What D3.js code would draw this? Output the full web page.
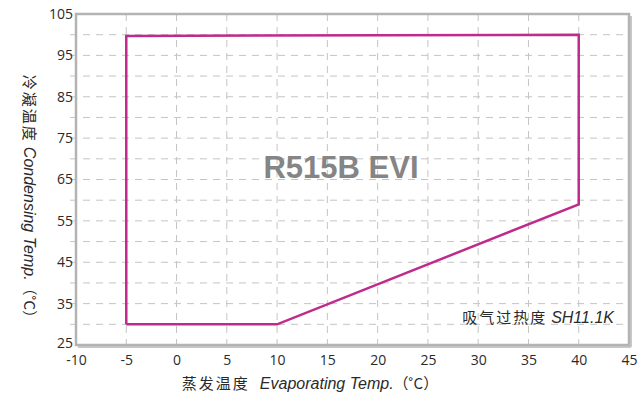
<!DOCTYPE html>
<html><head><meta charset="utf-8">
<script src="https://cdn.jsdelivr.net/npm/d3@7"></script>
<style>body{margin:0;background:#fff}svg{display:block}</style>
</head><body>
<svg id="c" width="644" height="400"></svg>
<script>
const xTicks = [-10,-5,0,5,10,15,20,25,30,35,40,45];
const yTicks = [25,35,45,55,65,75,85,95,105];
const evapTemp = [-5, -5, 40, 40, 10, -5];
const condTemp = [30, 99.7, 100, 59, 30, 30];
const title = "R515B EVI";
const note = "吸气过热度 SH11.1K";

const svg = d3.select("#c");
const L=76, R=629, T=14, B=345;
const x = d3.scaleLinear().domain([-10,45]).range([L,R]);
const y = d3.scaleLinear().domain([25,105]).range([B,T]);
const grid = "#c4c4c4", frame="#b3b3b3", txt="#2a2a2a";
const numFont = "'Open Sans','DejaVu Sans',sans-serif";
const fmt = d => String(d);

// gridlines
const g = svg.append("g");
g.selectAll(".gx").data(d3.range(-5,45,5)).join("line")
 .attr("x1",d=>x(d)).attr("x2",d=>x(d)).attr("y1",T).attr("y2",B)
 .attr("stroke",grid).attr("stroke-width",1).attr("stroke-dasharray","7,6");
g.selectAll(".gy").data(d3.range(30,105,5)).join("line")
 .attr("x1",L-6).attr("x2",R).attr("y1",d=>y(d)).attr("y2",d=>y(d))
 .attr("stroke",grid).attr("stroke-width",1).attr("stroke-dasharray","7,6");

// frame with shadow
svg.append("line").attr("x1",R+1.5).attr("x2",R+1.5).attr("y1",T+2).attr("y2",B+2).attr("stroke","#c8c8c8").attr("stroke-width",3);
svg.append("line").attr("x1",L+2).attr("x2",R+2).attr("y1",B+1.5).attr("y2",B+1.5).attr("stroke","#c8c8c8").attr("stroke-width",3);
svg.append("rect").attr("x",L).attr("y",T).attr("width",R-L).attr("height",B-T)
 .attr("fill","none").attr("stroke",frame).attr("stroke-width",2.5);

// axes labels
const xa = svg.append("g").attr("transform",`translate(0,${B})`)
 .call(d3.axisBottom(x).tickValues(xTicks).tickSize(0).tickPadding(10).tickFormat(fmt));
xa.select(".domain").remove();
xa.selectAll("text").attr("font-family",numFont).attr("font-size",14).attr("fill",txt);
const ya = svg.append("g").attr("transform",`translate(${L},0)`)
 .call(d3.axisLeft(y).tickValues(yTicks).tickSize(0).tickPadding(3).tickFormat(fmt));
ya.select(".domain").remove();
ya.selectAll("text").attr("font-family",numFont).attr("font-size",14).attr("fill",txt);
ya.selectAll(".tick").filter(d=>d===25).select("text").attr("dy","0.2em");

// envelope
svg.append("path").datum(d3.zip(evapTemp,condTemp))
 .attr("d",d3.line().x(d=>x(d[0])).y(d=>y(d[1])))
 .attr("fill","none").attr("stroke","#bf2a8c").attr("stroke-width",2.5).attr("stroke-linejoin","miter");

// title
svg.append("text").attr("x",341).attr("y",178).attr("text-anchor","middle")
 .attr("font-family","'Liberation Sans',Arial,sans-serif").attr("font-weight","bold").attr("font-size",31)
 .attr("fill","#858585").text(title);

// note
const nt = svg.append("text").attr("x",614).attr("y",323).attr("text-anchor","end")
 .attr("font-family","'Noto Sans CJK SC',sans-serif").attr("font-size",15).attr("fill",txt);
nt.append("tspan").attr("letter-spacing",2).text("吸气过热度");
nt.append("tspan").attr("dx",4).attr("font-family","'Liberation Sans',Arial,sans-serif").attr("font-style","italic").attr("font-size",16).text("SH11.1K");

// x title
const xt = svg.append("text").attr("x",310).attr("y",389).attr("text-anchor","middle")
 .attr("font-family","'Noto Sans CJK SC',sans-serif").attr("font-size",15).attr("fill",txt);
xt.append("tspan").attr("letter-spacing",2).text("蒸发温度");
xt.append("tspan").attr("dx",10).attr("font-family","'Liberation Sans',Arial,sans-serif").attr("font-style","italic").attr("font-size",16).text("Evaporating Temp.");
xt.append("tspan").text("（˚C）");

// y title
const yt = svg.append("text").attr("transform","translate(24,200) rotate(90)").attr("text-anchor","middle")
 .attr("font-family","'Noto Sans CJK SC',sans-serif").attr("font-size",15).attr("fill",txt);
yt.append("tspan").attr("letter-spacing",2).text("冷凝温度");
yt.append("tspan").attr("dx",4).attr("font-family","'Liberation Sans',Arial,sans-serif").attr("font-style","italic").attr("font-size",16).text("Condensing Temp.");
yt.append("tspan").text("（˚C）");
</script>
</body></html>
